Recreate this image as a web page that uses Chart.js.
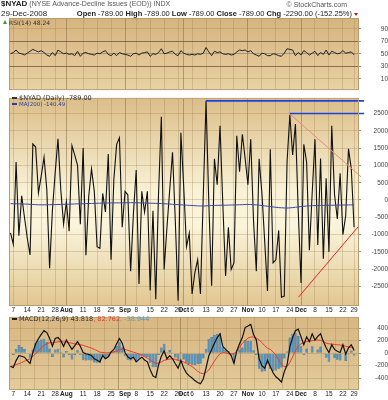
<!DOCTYPE html>
<html lang="en">
<head>
<meta charset="utf-8">
<title>$NYAD</title>
<script src="https://cdn.jsdelivr.net/npm/chart.js@4.4.1/dist/chart.umd.min.js"></script>
<style>
  html, body { margin: 0; padding: 0; background: #fff; }
  #page { position: relative; width: 388px; height: 400px; overflow: hidden; font-family: 'Liberation Sans', Arial, sans-serif; color: #222; }
  #page canvas { position: absolute; left: 0; }
  .t { position: absolute; white-space: nowrap; line-height: 1; }
  .lg { font-family: 'DejaVu Sans', Verdana, sans-serif; }
  .dash { display: inline-block; width: 5px; height: 2px; vertical-align: middle; margin-right: 2px; }
  .tri { position: absolute; width: 0; height: 0; }
</style>
</head>
<body>
<div id="page">
  <canvas id="rsiChart" width="388" height="94" style="top:0"></canvas>
  <canvas id="nyadChart" width="388" height="219" style="top:94px"></canvas>
  <canvas id="macdChart" width="388" height="87" style="top:313px"></canvas>

  <!-- cabeçalho -->
  <div class="t" style="left:1px;top:0;font-size:7px;color:#555"><b style="font-size:8px;color:#222">$NYAD</b> (NYSE Advance-Decline Issues (EOD)) INDX</div>
  <div class="t" style="right:41px;top:1px;font-size:7px;color:#555">© StockCharts.com</div>
  <div class="t" style="left:1px;top:10px;font-size:8px">29-Dec-2008</div>
  <div class="t" style="right:36px;top:10px;font-size:7.5px"><b>Open</b> -789.00 <b>High</b> -789.00 <b>Low</b> -789.00 <b>Close</b> -789.00 <b>Chg</b> -2290.00 (-152.25%)</div>
  <div class="tri" style="left:354px;top:13px;border-left:2.5px solid transparent;border-right:2.5px solid transparent;border-top:3px solid #d01010"></div>

  <!-- legendas dos painéis -->
  <div class="tri" style="left:3px;top:20px;border-left:2.5px solid transparent;border-right:2.5px solid transparent;border-bottom:4px solid #3a9a3a"></div>
  <div class="t lg" style="left:9px;top:19.5px;font-size:6px;color:#333">RSI(14) 48.24</div>
  <div class="t lg" style="left:12px;top:94.5px;font-size:6.5px;color:#333"><span class="dash" style="background:#333"></span>$NYAD (Daily) -789.00</div>
  <div class="t lg" style="left:12px;top:101.5px;font-size:5.5px;color:#2c3ca0"><span class="dash" style="background:#2c3ca0"></span>MA(200) -140.49</div>
  <div class="t lg" style="left:12px;top:316px;font-size:6.5px;color:#333"><span class="dash" style="background:#222"></span>MACD(12,26,9) 43.818<span style="color:#e03a2a">, 82.762</span><span style="color:#5a9cd0">, -38.944</span></div>
</div>

<script>
// --- Calendário de pregões (NYSE, 2º semestre de 2008) ---
const FIRST_DAY = '2008-07-03';
const LAST_DAY = '2008-12-29';
const HOLIDAYS = ['2008-07-04', '2008-09-01', '2008-11-27', '2008-12-25'];
const MONTHS = ['Jan', 'Feb', 'Mar', 'Apr', 'May', 'Jun', 'Jul', 'Aug', 'Sep', 'Oct', 'Nov', 'Dec'];

// --- Dados (um valor por pregão, 3-Jul a 29-Dec) ---
const nyadDaily = [
  -950, -1280, 1100, -1030, 120, -500, -1100, -1590, 1620, 1530,
  200, 700, 1240, 300, -1970, -300, 800, 1770, 300, -700,
  -50, -900, 1570, 1300, 1000, -700, 1500, -1600, 100, 900,
  250, -1350, -1400, 190, -350, 1330, -1730, 600, 1610, 1800,
  -790, 250, 150, -2060, -400, 870, -2430, 250, -350, 250,
  -2620, -315, -2870, 200, 2410, -2010, -800, 300, 1380, -600,
  -2910, 1945, 400, -1350, -960, -2720, -2100, -1730, -2720, 100,
  2870, -100, -2480, 1190, 440, 2150, -100, -2200, -790, -2010,
  -1820, 1860, 815, 1900, 1200, 440, 1760, -600, -2060, 1190,
  200, -1200, -2630, 1470, -1820, -1730, -880, -2810, -2780, 1100,
  2460, 1300, 2200, -300, -2400, 1610, 1100, -1450, 200, 1760,
  -1300, 1200, -1700, 630, -1500, 2150, 155, -550, 770, -1000,
  -450, 1480, 900, -789
];

const nyadMa200 = [
  -105, -108, -110, -112, -115, -118, -120, -125, -130, -135,
  -138, -140, -140, -138, -136, -135, -133, -130, -128, -125,
  -122, -120, -118, -115, -112, -110, -108, -105, -103, -100,
  -98, -95, -92, -90, -88, -86, -85, -84, -83, -82,
  -80, -80, -79, -78, -78, -80, -82, -85, -88, -90,
  -92, -95, -98, -100, -104, -108, -112, -118, -125, -130,
  -135, -140, -145, -150, -155, -160, -165, -170, -172, -175,
  -170, -165, -160, -158, -155, -152, -150, -150, -148, -145,
  -142, -140, -138, -135, -130, -128, -130, -135, -142, -150,
  -160, -170, -180, -190, -200, -210, -220, -225, -230, -232,
  -228, -220, -210, -200, -190, -182, -175, -170, -165, -162,
  -160, -158, -156, -155, -154, -152, -150, -148, -146, -145,
  -144, -143, -142, -140.49
];

const rsi14 = [
  50, 52, 56, 51, 50, 48, 51, 54, 57, 55,
  53, 55, 52, 48, 46, 52, 47, 56, 53, 50,
  51, 49, 50, 47, 54, 46, 51, 52, 50, 49,
  48, 51, 50, 53, 55, 49, 47, 51, 47, 52,
  50, 49, 48, 46, 50, 51, 48, 51, 52, 53,
  46, 50, 49, 52, 58, 50, 51, 53, 54, 49,
  47, 55, 51, 49, 48, 49, 48, 50, 49, 51,
  60, 53, 47, 54, 52, 53, 50, 49, 50, 48,
  49, 53, 56, 55, 56, 53, 55, 50, 48, 46,
  51, 50, 47, 47, 50, 49, 47, 46, 51, 58,
  57, 56, 47, 52, 48, 55, 52, 48, 51, 54,
  47, 52, 49, 56, 48, 54, 52, 50, 51, 55,
  51, 52, 53, 48.24
];

const macdLine = [
  -215, -230, -120, -40, -50, -65, -120, -165, 10, 150,
  230, 300, 360, 330, 240, 110, 235, 250, 200, 110,
  210, 135, 60, 120, 185, 110, 10, -10, -20, -40,
  -90, -115, -140, -40, -90, -60, 20, 60, 150, 235,
  160, 10, -60, -90, -65, -140, -100, -65, -110, -140,
  -265, -365, -390, -190, -50, 35, -90, -40, -90, -170,
  -240, -115, -240, -320, -365, -400, -440, -470, -490, -415,
  -240, -40, 60, 160, 250, 310, 110, 60, 20, -40,
  -165, 35, 150, 250, 410, 435, 460, 300, 210, -90,
  -200, -240, -115, -215, -315, -380, -415, -465, -300, -190,
  100, 250, 360, 385, 260, 135, 260, 185, 310, 210,
  270, 310, 185, 85, 10, 135, 60, 30, 10, 135,
  -15, 85, 135, 43.818
];

const macdSignal = [
  -215, -200, -185, -170, -150, -130, -110, -90, -50, -10,
  30, 80, 130, 150, 165, 170, 175, 180, 185, 180,
  175, 165, 160, 150, 140, 135, 125, 110, 95, 80,
  60, 40, 15, 10, 5, 5, 10, 20, 35, 60,
  65, 60, 45, 30, 15, 0, -15, -35, -55, -80,
  -110, -140, -165, -160, -140, -115, -105, -95, -90, -100,
  -115, -130, -140, -165, -190, -215, -250, -290, -320, -330,
  -310, -270, -200, -130, -60, -10, 10, 5, -10, -15,
  -5, 30, 90, 160, 200, 240, 260, 255, 240, 210,
  170, 120, 80, 60, 20, -30, -115, -180, -215, -215,
  -150, -60, 40, 110, 150, 170, 185, 190, 200, 210,
  210, 205, 190, 160, 150, 145, 140, 135, 130, 125,
  110, 100, 92, 82.762
];

const macdHist = [
  0, -30, 65, 130, 100, 65, -10, -75, 60, 160,
  200, 220, 230, 180, 75, -60, 60, 70, 15, -70,
  35, -30, -100, -30, 45, -25, -115, -120, -115, -120,
  -150, -155, -155, -50, -95, -65, 10, 40, 115, 175,
  95, -50, -105, -120, -80, -140, -85, -30, -55, -60,
  -155, -225, -225, -30, 90, 150, 15, 55, 0, -70,
  -125, 15, -100, -155, -175, -185, -190, -180, -170, -85,
  70, 230, 260, 290, 310, 320, 100, 55, 30, -25,
  -160, 5, 60, 90, 210, 195, 200, 45, -30, -250,
  -300, -290, -180, -250, -290, -280, -250, -230, -85, 25,
  250, 310, 320, 275, 110, -35, 75, -5, 110, 0,
  60, 105, -5, -75, -140, -10, -80, -105, -120, 10,
  -125, -15, 43, -38.944
];

// Linhas de tendência desenhadas à mão no original: [índice do pregão, valor]
const peakLine = [[70, 2867], [126.6, 2867]];
const nov24Line = [[100, 2500], [126.6, 2500]];
const upperRedLine = [[100, 2490], [125.5, 670]];
const lowerRedLine = [[103.1, -2810], [124.6, -760]];

// Rótulos dos eixos verticais
const rsiTicks = [10, 30, 50, 70, 90];
const nyadTicks = [-2500, -2000, -1500, -1000, -500, 0, 500, 1000, 1500, 2000, 2500];
const macdTicks = [-400, -200, 0, 200, 400];

// --- Aparência ---
const FONT = "'Liberation Sans', Arial, sans-serif";
const X_MIN = -0.18, X_MAX = 124.4;
const AXIS_W = 30;
const BORDER = '#b89c70';
const WEEK_GRID = 'rgba(150,118,70,0.28)';
const MONTH_GRID = 'rgba(130,100,60,0.5)';

// Monta os pregões e os rótulos de data (mês no 1º pregão, dia no 1º pregão da semana)
function buildCalendar() {
    const days = [];
    const d = new Date(FIRST_DAY + 'T00:00:00Z');
    const end = new Date(LAST_DAY + 'T00:00:00Z');
    while (d <= end) {
        const iso = d.toISOString().slice(0, 10);
        const wd = d.getUTCDay();
        if (wd !== 0 && wd !== 6 && !HOLIDAYS.includes(iso)) days.push(new Date(d));
        d.setUTCDate(d.getUTCDate() + 1);
    }
    return days;
}

const calendar = buildCalendar();
const dateTicks = [];
calendar.forEach((day, i) => {
    const prev = calendar[i - 1];
    if (!prev) return;
    if (day.getUTCMonth() !== prev.getUTCMonth()) {
        dateTicks.push({ value: i, label: MONTHS[day.getUTCMonth()], month: true });
    } else if (day.getUTCDay() < prev.getUTCDay()) {
        const last = dateTicks[dateTicks.length - 1];
        if (last && last.month && i - last.value < 2) return;
        dateTicks.push({ value: i, label: String(day.getUTCDate()), month: false });
    }
});
const tickByValue = new Map(dateTicks.map(t => [t.value, t]));
const isMonth = v => !!(tickByValue.get(v) || {}).month;

const toPoints = arr => arr.map((v, i) => ({ x: i, y: v }));
const toLine = arr => arr.map(([x, y]) => ({ x, y }));

// Fundo em degradê e moldura de cada painel
const panelBg = {
    id: 'panelBg',
    beforeDraw(chart, args, opts) {
        const { ctx, chartArea: a } = chart;
        const g = ctx.createLinearGradient(0, a.top, 0, a.bottom);
        opts.stops.forEach(([p, c]) => g.addColorStop(p, c));
        ctx.save();
        ctx.fillStyle = g;
        ctx.fillRect(a.left, a.top, a.right - a.left, a.bottom - a.top);
        ctx.restore();
    },
    afterDraw(chart) {
        const { ctx, chartArea: a } = chart;
        ctx.save();
        ctx.strokeStyle = BORDER;
        ctx.lineWidth = 1;
        ctx.strokeRect(a.left - 0.5, a.top - 0.5, a.right - a.left + 1, a.bottom - a.top + 1);
        ctx.restore();
    }
};

function xAxis(labelHeight) {
    return {
        type: 'linear', min: X_MIN, max: X_MAX, offset: false,
        afterBuildTicks: s => { s.ticks = dateTicks.map(t => ({ value: t.value })); },
        afterFit: s => { s.height = labelHeight; },
        border: { display: false },
        grid: { drawTicks: false, color: c => isMonth(c.tick && c.tick.value) ? MONTH_GRID : WEEK_GRID },
        ticks: {
            display: labelHeight > 0, autoSkip: false, maxRotation: 0, padding: 1, color: '#222',
            font: c => ({ family: FONT, size: 6.5, weight: isMonth(c.tick && c.tick.value) ? 'bold' : 'normal' }),
            callback: v => (tickByValue.get(v) || {}).label || ''
        }
    };
}

function yAxis(min, max, tickValues, gridColor) {
    return {
        position: 'right', min, max,
        afterBuildTicks: s => { s.ticks = tickValues.map(v => ({ value: v })); },
        afterFit: s => { s.width = AXIS_W; },
        border: { display: false },
        grid: { color: gridColor, tickColor: '#999', tickLength: 3 },
        ticks: { crossAlign: 'far', padding: 1, color: '#444', font: { family: FONT, size: 6.5 }, callback: v => String(v) }
    };
}

function makeChart(id, datasets, y, labelHeight, padding, stops) {
    return new Chart(document.getElementById(id), {
        type: 'line',
        data: { datasets },
        options: {
            responsive: false, animation: false, events: [],
            layout: { padding },
            elements: { point: { radius: 0 }, line: { tension: 0 } },
            scales: { x: xAxis(labelHeight), y },
            plugins: { legend: { display: false }, tooltip: { enabled: false }, panelBg: { stops } }
        },
        plugins: [panelBg]
    });
}

// --- Painel RSI(14) ---
makeChart('rsiChart', [
    { data: toPoints(rsi14), borderColor: '#222', borderWidth: 1 }
], yAxis(-6.5, 105.6, rsiTicks, c => {
    const v = c.tick && c.tick.value;
    if (v === 70 || v === 30) return 'rgba(110,90,70,0.8)';
    if (v === 50) return 'rgba(120,120,120,0.6)';
    return WEEK_GRID;
}), 0, { top: 19, bottom: 1, left: 10, right: 0 },
   [[0, '#d7b47e'], [1, '#e8d1a3']]);

// --- Painel principal $NYAD ---
makeChart('nyadChart', [
    { data: toLine(peakLine), borderColor: '#1a44e0', borderWidth: 1.6, clip: 8 },
    { data: toLine(nov24Line), borderColor: '#1a44e0', borderWidth: 1.6, clip: 8 },
    { data: toLine(upperRedLine), borderColor: '#ee8a78', borderWidth: 1, clip: 8 },
    { data: toLine(lowerRedLine), borderColor: '#f02020', borderWidth: 1, clip: 8 },
    { data: toPoints(nyadMa200), borderColor: '#3a46a8', borderWidth: 1 },
    { data: toPoints(nyadDaily), borderColor: '#111', borderWidth: 1.1 }
], yAxis(-3037, 2924, nyadTicks, WEEK_GRID), 8, { top: 0, bottom: 0, left: 10, right: 0 },
   [[0, '#dcbe89'], [0.45, '#f9f2d6'], [0.62, '#faf4db'], [1, '#e1c791']]);

// --- Painel MACD(12,26,9) ---
makeChart('macdChart', [
    { type: 'line', data: toPoints(macdLine), borderColor: '#111', borderWidth: 1.2, order: 1 },
    { type: 'line', data: toPoints(macdSignal), borderColor: '#f03a2a', borderWidth: 1, order: 2 },
    { type: 'bar', data: toPoints(macdHist), backgroundColor: '#4a92c8', borderColor: '#2a628e', borderWidth: 0.5,
      barPercentage: 1, categoryPercentage: 0.95, order: 3 }
], yAxis(-575, 565, macdTicks, WEEK_GRID), 11, { top: 0, bottom: 0, left: 10, right: 0 },
   [[0, '#d8b883'], [0.6, '#ddc190'], [1, '#e4cc9b']]);
</script>
</body>
</html>
